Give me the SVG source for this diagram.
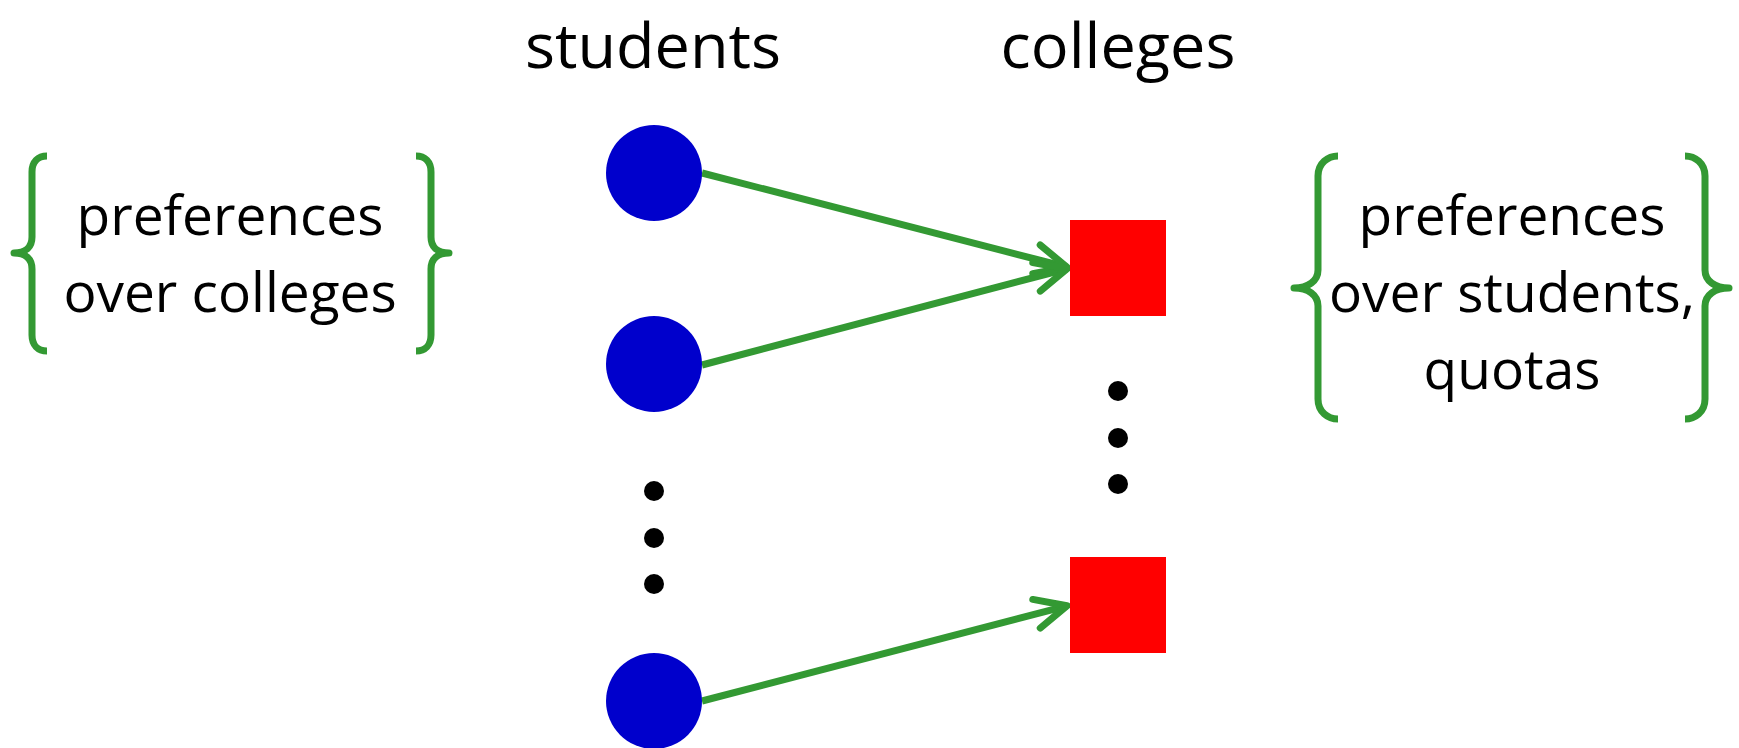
<svg xmlns="http://www.w3.org/2000/svg" width="1739" height="748" viewBox="0 0 1739 748">
<style>
.title{font-family:"Open Sans","Noto Sans",sans-serif;font-size:63px;fill:#000;text-anchor:middle}
.body{font-family:"Open Sans","Noto Sans",sans-serif;font-size:55px;fill:#000;text-anchor:middle}
.brace{fill:none;stroke:#339933;stroke-width:7;stroke-linejoin:round}
.edge{fill:none;stroke:#339933;stroke-width:7}
.student{fill:#0000CC}
.college{fill:#FF0000}
.dot{fill:#000}
</style>
<defs>
<marker id="arrow" markerUnits="userSpaceOnUse" markerWidth="60" markerHeight="60" viewBox="-40 -30 60 60" refX="0" refY="0" orient="auto" overflow="visible">
<path d="M-31.5,-14.8 L0,0 L-31.5,14.8" fill="none" stroke="#339933" stroke-width="7" stroke-linecap="round" stroke-linejoin="round"/>
</marker>
</defs>
<rect width="1739" height="748" fill="#fff"/>
<g id="titles">
<text class="title" x="653" y="68">students</text>
<text class="title" x="1118" y="68">colleges</text>
</g>
<g id="student-prefs">
<path class="brace" d="M47,156 C38,156 32,162 32,172 L32,237 C32,247 26,253 14,253 C26,253 32,259 32,269 L32,335 C32,345 38,351 47,351"/>
<path class="brace" d="M416,156 C425,156 431,162 431,172 L431,237 C431,247 437,253 449,253 C437,253 431,259 431,269 L431,335 C431,345 425,351 416,351"/>
<text class="body" x="230" y="235">preferences</text>
<text class="body" x="230" y="312">over colleges</text>
</g>
<g id="college-prefs">
<path class="brace" d="M1338,156 C1328,156 1318,163 1318,176 L1318,270 C1318,281 1308,288 1294,288 C1308,288 1318,295 1318,306 L1318,399 C1318,412 1328,419 1338,419"/>
<path class="brace" d="M1685,156 C1695,156 1705,163 1705,176 L1705,270 C1705,281 1715,288 1729,288 C1715,288 1705,295 1705,306 L1705,399 C1705,412 1695,419 1685,419"/>
<text class="body" x="1512" y="235">preferences</text>
<text class="body" x="1512" y="312">over students,</text>
<text class="body" x="1512" y="389">quotas</text>
</g>
<g id="connectors">
<line class="edge" x1="702" y1="173" x2="1067" y2="267.2" marker-end="url(#arrow)"/>
<line class="edge" x1="702" y1="365" x2="1067" y2="268.8" marker-end="url(#arrow)"/>
<line class="edge" x1="702" y1="701" x2="1067" y2="605.8" marker-end="url(#arrow)"/>
</g>
<g id="student1"><circle class="student" cx="654" cy="173" r="48"/></g>
<g id="student2"><circle class="student" cx="654" cy="364" r="48"/></g>
<g id="student-dots">
<circle class="dot" cx="654" cy="491" r="10"/>
<circle class="dot" cx="654" cy="538" r="10"/>
<circle class="dot" cx="654" cy="584" r="10"/>
</g>
<g id="student3"><circle class="student" cx="654" cy="701" r="48"/></g>
<g id="college1"><rect class="college" x="1070" y="220" width="96" height="96"/></g>
<g id="college-dots">
<circle class="dot" cx="1118" cy="391" r="10"/>
<circle class="dot" cx="1118" cy="438" r="10"/>
<circle class="dot" cx="1118" cy="484" r="10"/>
</g>
<g id="college2"><rect class="college" x="1070" y="557" width="96" height="96"/></g>
</svg>
